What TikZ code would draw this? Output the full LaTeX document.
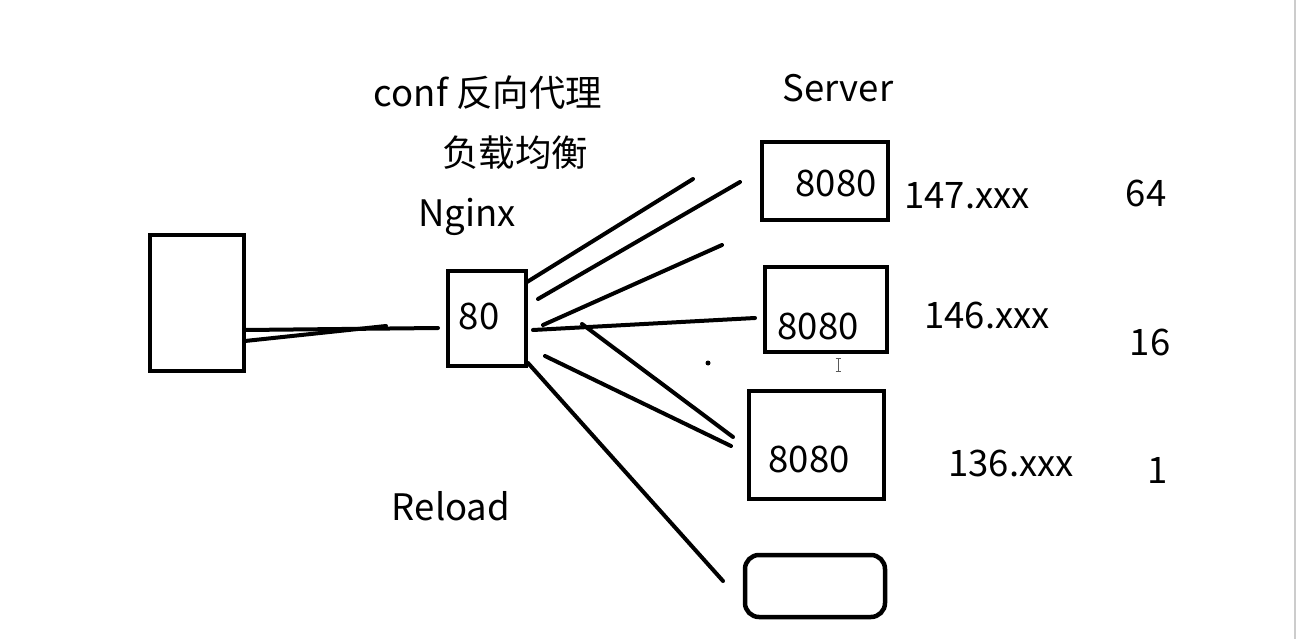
\documentclass[tikz,border=0pt]{standalone}
\usepackage{fontspec}
\setmainfont{Noto Sans CJK SC}
\begin{document}
\begin{tikzpicture}[x=1pt,y=-1pt,
  box/.style={draw=black,line width=4.5pt,inner sep=0pt},
  lbl/.style={inner sep=0pt,font=\fontsize{36.5}{40}\selectfont},
  wire/.style={line width=4pt,line cap=round}]
\useasboundingbox[fill=white] (0,0) rectangle (1298,639);
% boxes
\node[box,minimum width=94,minimum height=136] (client) at (197,303) {};
\node[box,minimum width=78,minimum height=95] (nginx) at (487,318.5) {};
\node[box,minimum width=126,minimum height=78] (s1) at (825,181) {};
\node[box,minimum width=122,minimum height=85] (s2) at (826,309.5) {};
\node[box,minimum width=135,minimum height=108] (s3) at (816.5,445) {};
\node[box,rounded corners=14pt,minimum width=140,minimum height=62] (s4) at (815,586) {};
% labels in boxes
\node[lbl] (t80) at (479,316) {80};
\node[lbl] (t1) at (836,183) {8080};
\node[lbl] (t2) at (818,326) {8080};
\node[lbl] (t3) at (809,459) {8080};
% texts
\node[lbl] (conf) at (488,93) {conf 反向代理};
\node[lbl] (lb) at (515,153) {负载均衡};
\node[lbl] (ngx) at (467,217) {Nginx};
\node[lbl] (srv) at (838,88) {Server};
\node[lbl] (ip1) at (967,196) {147.xxx};
\node[lbl] (ip2) at (987,315) {146.xxx};
\node[lbl] (ip3) at (1011,463) {136.xxx};
\node[lbl] (w1) at (1146,193) {64};
\node[lbl] (w2) at (1150,342) {16};
\node[lbl] (w3) at (1158,470) {1};
\node[lbl] (rel) at (451,506) {Reload};
% connector end points
\coordinate (c1) at (245,330); \coordinate (n1) at (438,328);
\coordinate (c2) at (245,341); \coordinate (n2) at (386,326);
\coordinate (a1) at (527,282); \coordinate (b1) at (693,179);
\coordinate (a2) at (538,299); \coordinate (b2) at (740,182);
\coordinate (a3) at (543,325); \coordinate (b3) at (722,245);
\coordinate (a4) at (533,330); \coordinate (b4) at (755,318);
\coordinate (a5) at (582,324); \coordinate (b5) at (733,437);
\coordinate (a6) at (545,356); \coordinate (b6) at (731,446);
\coordinate (a7) at (528,363); \coordinate (b7) at (723,581);
\draw[wire] (c1) -- (n1);
\draw[wire] (c2) -- (n2);
\draw[wire] (a1) -- (b1);
\draw[wire] (a2) -- (b2);
\draw[wire] (a3) -- (b3);
\draw[wire] (a4) -- (b4);
\draw[wire] (a5) -- (b5);
\draw[wire] (a6) -- (b6);
\draw[wire] (a7) -- (b7);
% stray dot and cursor
\fill (708,363) circle (2.5);
\draw[line width=1pt,gray!70!black] (838,358) -- (838,371) (835.5,358) -- (840.5,358) (835.5,371) -- (840.5,371);
% window edge
\draw[line width=1.5pt,gray!40] (1295,0) -- (1295,639);
\end{tikzpicture}
\end{document}
